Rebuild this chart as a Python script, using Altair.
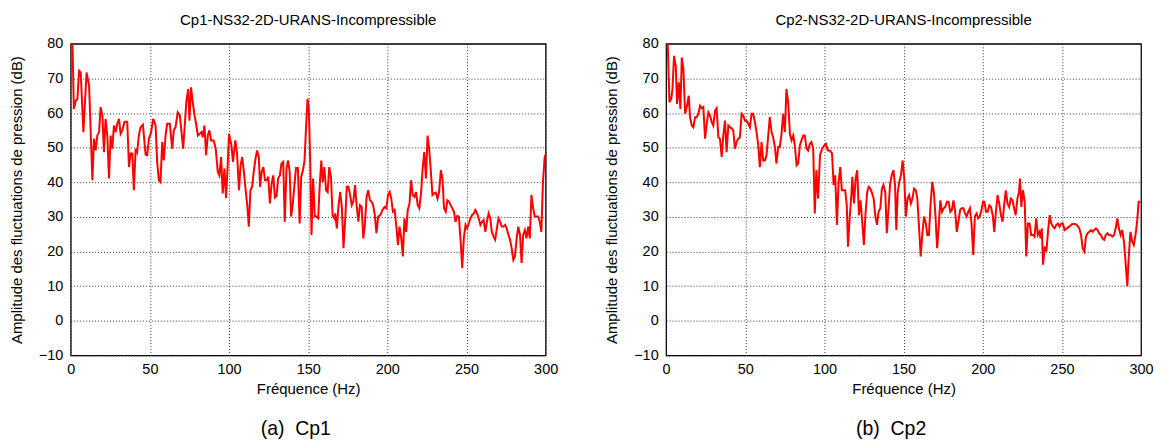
import altair as alt
import pandas as pd

FONT = "Liberation Sans"

# ---- Panel (a) Cp1 : frequency (Hz) / amplitude (dB) ----
freq1 = [0, 1, 2, 3.2, 4.2, 5.3, 6.3, 8, 10, 11.6, 13.7, 14.7, 15.8, 16.8, 17.9, 18.9, 20, 21, 22, 23.1,
         24.2, 25.2, 26.3, 27.3, 28.4, 29.4, 30.5, 31.5, 32.6, 34, 35.7, 36.8, 37.8, 38.9, 39.9, 41, 42, 43,
         44.1, 45.6, 47.3, 48.3, 49.4, 50.8, 52.1, 53.6, 54.6, 55.7, 56.7, 57.8, 58.8, 59.9, 60.9, 62.6,
         64.1, 65.1, 66.2, 67.6, 68.9, 70, 71, 72.1, 73.1, 74.2, 75, 76, 77.1, 78.2, 79.2, 80.3, 81.5, 82.6,
         83.4, 84.5, 85.5, 86.6, 87.6, 88.7, 90.3, 91.6, 92.9, 93.9, 95, 96, 97.1, 98.1, 99.2, 100, 101.5,
         102.5, 104, 105, 106.3, 107.3, 108.3, 109.4, 110.4, 111.5, 112.5, 113.5, 114.6, 115.6, 116.7,
         117.7, 118.8, 119.6, 120.6, 121.7, 122.7, 123.8, 124.8, 125.8, 126.9, 127.9, 129, 130, 131, 132.1,
         133.1, 134.2, 135.2, 136.3, 137.3, 138.3, 139.2, 140.2, 141.3, 142.3, 143.5, 144.6, 145.6, 146.7,
         147.7, 148.8, 149.6, 150.4, 151.3, 152.1, 153.1, 154.2, 155.2, 156.3, 157.3, 158.3, 159.2, 160.2,
         161.3, 162.3, 163.3, 164.4, 165.4, 166.5, 167.1, 168.1, 169.2, 170.2, 171.3, 172.3, 173.3, 174.4,
         175.4, 176.5, 177.5, 178.5, 179.6, 180.6, 181.7, 182.7, 183.8, 184.8, 185.8, 186.9, 187.9, 189,
         190, 191, 192.1, 193.1, 194.2, 195.6, 196.9, 198.3, 199.4, 200.4, 201.5, 202.5, 203.5, 204.6,
         205.6, 206.7, 207.7, 208.8, 209.8, 210.8, 211.9, 212.9, 214, 215, 216, 217.1, 218.1, 219.2, 220.2,
         221.3, 222.3, 223.3, 224.4, 225.4, 226.5, 227.5, 228.5, 229.6, 230.6, 231.7, 232.7, 233.8, 234.8,
         235.8, 236.9, 237.9, 239, 240, 241, 242.1, 243.1, 244.2, 245.2, 246.3, 247.3, 248.3, 249.4, 250.4,
         251.5, 252.5, 253.5, 254.6, 255.6, 256.7, 257.7, 258.8, 259.8, 260.8, 261.9, 262.9, 264, 265, 266,
         267.1, 268.1, 269.2, 270.2, 271.3, 272.3, 273.3, 274.4, 275.4, 276.5, 277.5, 278.5, 279.6, 280.6,
         281.7, 282.7, 283.8, 284.8, 285.8, 286.9, 287.9, 289, 290, 291, 292.1, 293.1, 294.2, 295.2, 296.3,
         297.3, 298.3, 299.4, 300]
amp1 = [85, 82, 61.2, 63.6, 64, 72.2, 71.7, 54.5, 71.7, 67.9, 40.6, 52.6, 49.2, 53.5, 54.5, 61.7, 59.3, 48.7,
        58.3, 53.5, 41.1, 53.5, 49.7, 56.4, 54.5, 56.9, 58.3, 54, 55, 57.5, 57.5, 44.4, 48.3, 48.3, 37.7, 49.7,
        48.7, 53.5, 55.9, 56.6, 48, 47.8, 52.6, 54.5, 58.3, 56.4, 45.9, 40.6, 40.1, 51.6, 46.3, 53.5, 56.9,
        56.9, 49.7, 55, 55.9, 60.2, 59.3, 54.5, 49.7, 56.9, 63.6, 66.9, 57.8, 67.4, 63.1, 59.3, 56.9, 53.5, 54,
        54.5, 53, 56.4, 47.8, 53.5, 55, 52.1, 52.1, 49.7, 43, 42, 47.3, 36.8, 44, 35.5, 45.5, 54, 50.7, 45.9,
        52.1, 48.7, 37.7, 44.9, 47.3, 43, 38.2, 33.4, 27.2, 37.7, 38.7, 43, 46.8, 49.2, 47.3, 38.7, 43, 44.4,
        40.6, 40.6, 41.6, 33.9, 39.6, 42, 35.6, 36, 41.1, 42, 45.4, 45.9, 28.6, 44, 46.3, 43, 30.1, 33.4,
        39.2, 44.1, 44.1, 28.1, 41.6, 43.5, 46.3, 57.4, 64.1, 61.2, 45.9, 24.8, 41.1, 30.1, 30.1, 29.6, 39.2,
        46.3, 40.1, 44.4, 37.7, 37.2, 44.4, 41.6, 30.5, 29.6, 31, 26.7, 33.4, 37.2, 32.5, 21, 28.6, 38.7,
        38.7, 36.3, 33.4, 34.4, 39.2, 33.4, 28.6, 33.4, 32.9, 23.8, 27.7, 35.8, 37.7, 34.8, 34.4, 33.4, 30.5,
        25.3, 30.1, 30.5, 32, 32.9, 32.5, 36.3, 37.2, 35.3, 31.5, 32, 27.7, 21.9, 27.2, 23.8, 18.6, 29.6,
        25.7, 32, 33.9, 40.6, 36.3, 35.8, 37.2, 33.4, 32.5, 36.8, 43.9, 48.7, 41.1, 53.5, 49.2, 43, 36.3,
        36.8, 37, 35.3, 37.2, 43.5, 41.1, 32.5, 31.5, 34.8, 34.4, 33.4, 32.5, 31.5, 28.6, 30.3, 30.1, 22.9,
        15.2, 23.8, 27.7, 26.7, 28.1, 29.6, 30.5, 31, 32, 31, 29.6, 27.7, 28.6, 29.1, 25.7, 28.6, 31, 29.6,
        25.7, 24.3, 23.4, 26.7, 29.6, 28.6, 27.2, 27.2, 27.7, 26.7, 24.8, 23.4, 21, 17.6, 18.6, 23.8, 27.2,
        24.8, 16.7, 24.8, 26.2, 23.8, 27.2, 23.8, 36.3, 32.5, 30.1, 30.1, 30.1, 28.6, 25.7, 40.1, 47.3, 48]

# ---- Panel (b) Cp2 ----
freq2 = [0, 1, 2.1, 3.2, 4, 5, 6.1, 6.9, 8, 9, 9.9, 10.9, 12, 13, 14.3, 15.1, 16.2, 17.2, 18.3, 19.3, 20.4,
         21.4, 22.5, 23.5, 24.6, 25.6, 26.7, 27.7, 28.8, 29.8, 30.9, 31.9, 33, 34, 35.1, 36.1, 37.2, 38.2,
         39.3, 40.3, 41.4, 42.4, 43.5, 44.5, 45.6, 46.6, 47.7, 48.7, 49.8, 50.8, 51.9, 52.9, 54, 55, 56.1,
         57.1, 58.2, 59.2, 60.3, 61.3, 62.4, 63.4, 64.5, 65.5, 66.6, 67.6, 68.7, 69.7, 70.8, 71.8, 72.9,
         73.9, 75, 76, 77.1, 78.2, 79.2, 80.3, 81.3, 82.4, 83.4, 84.5, 85.5, 86.6, 87.6, 88.7, 89.7, 90.8,
         91.8, 92.9, 93.9, 94.9, 96, 97.2, 98.5, 100, 101, 102.1, 103.5, 104.8, 105.8, 106.8, 107.9, 108.9,
         110, 111, 112, 113.1, 114.1, 114.9, 116, 117, 117.6, 118.7, 119.7, 120.7, 121.8, 122.8, 123.9,
         124.9, 125.9, 127, 128, 129, 130.1, 131.1, 132.2, 133.2, 134.2, 135.3, 136.3, 137.3, 138.4, 139.4,
         140.5, 141.5, 142.5, 143.6, 144.6, 145.4, 146.3, 147.3, 148.3, 149.4, 150.4, 151.5, 152.5, 153.5,
         154.6, 155.6, 156.6, 157.7, 158.7, 159.8, 160.8, 161.8, 162.9, 163.9, 165, 166, 167, 168.1, 169.1,
         170.1, 171.2, 172.2, 173.2, 174.3, 175.3, 176.3, 177.4, 178.4, 179.5, 180.5, 181.5, 182.6, 183.6,
         184.6, 185.7, 186.7, 187.8, 188.8, 189.8, 190.9, 191.9, 192.9, 194, 195, 196.1, 197.1, 198.1,
         199.2, 200.2, 201, 202.1, 203.1, 204.2, 205.2, 206.3, 207.3, 208.3, 209.4, 210.4, 211.5, 212.5,
         213.5, 214.6, 215.6, 216.7, 217.7, 218.8, 219.8, 220.8, 221.9, 222.9, 223.5, 224.4, 225.4, 226.5,
         227.5, 228.5, 229.6, 230.6, 231.7, 232.7, 233.8, 234.8, 235.8, 236.5, 237.3, 238.1, 239.2, 240.2,
         241.3, 242.3, 243.3, 244.4, 245.4, 246.5, 247.5, 248.5, 249.6, 250.6, 251.7, 253.1, 254.6, 256.3,
         257.9, 259.4, 261, 262.1, 263.1, 264.2, 265.2, 266.3, 267.3, 268.3, 269.4, 270.4, 271.5, 272.5,
         273.5, 274.6, 275.6, 276.7, 277.7, 278.8, 279.8, 280.8, 281.9, 282.9, 284, 285, 286, 287.1, 288.1,
         289.2, 290.2, 291.3, 292.3, 293.3, 294.4, 295.4, 296.5, 297.5, 298.5, 299.6]
amp2 = [85, 80, 63.1, 64.1, 66.9, 76.5, 73.6, 62.6, 68.9, 61.2, 76, 72.7, 59.8, 61.7, 65, 58.8, 56.4, 55.9,
        58.8, 58.8, 59.8, 62.1, 61.4, 61.7, 52.6, 56.9, 60.2, 59.3, 57.4, 56.4, 60.7, 61.4, 53, 52.6, 47.3,
        53.5, 57.8, 48.7, 56.4, 55.9, 55.6, 55, 49.7, 51.6, 52.6, 53, 59.8, 59.3, 57.8, 57.8, 56.9, 55.9,
        59.8, 59.8, 57.4, 54.5, 50.7, 44.4, 51.6, 46.3, 46.3, 47.8, 53.5, 58.8, 54.5, 53, 50.2, 45.4, 50.2,
        50.2, 54, 59.8, 54.5, 66.9, 63.1, 54, 52.1, 53.5, 50.7, 44.9, 45.4, 50.7, 52.1, 53.5, 53.5, 49.7,
        49.2, 51.1, 51.6, 49.7, 31, 43.5, 35.3, 47.8, 49.7, 50.7, 51.1, 49.2, 49.2, 48.3, 39.2, 42, 27.7,
        39.6, 44.4, 37.7, 37.7, 37.7, 33.4, 21.4, 30.1, 36.3, 41.6, 33.9, 41.1, 43.5, 30.5, 34.8, 28.6,
        21.9, 30.5, 37.2, 38.7, 38.2, 36.8, 35.3, 30.1, 27.7, 31.5, 32.5, 38.2, 39.2, 37.2, 25.3, 32.5,
        39.6, 42, 43.5, 39.2, 26.2, 37.2, 40.1, 42, 46.3, 41.1, 30.1, 35.3, 36.3, 33.9, 35.3, 38.2, 37.7,
        35.3, 26.7, 18.6, 24.8, 30.1, 28.6, 24.8, 24.8, 33.4, 40.1, 37.2, 30.5, 21, 27.2, 34.8, 31.5, 32.5,
        32.9, 34.4, 34.4, 31.5, 32, 34.8, 31.5, 25.7, 28.6, 32, 32.5, 32.5, 31, 30.1, 31.5, 32.5, 28.1, 19,
        30.1, 31, 29.6, 30.1, 32, 34.4, 34.4, 31.5, 31.5, 33.4, 32.9, 30.5, 25.7, 31.5, 36.3, 33.9, 30.5,
        28.6, 33.4, 37.7, 33.9, 32.9, 35.3, 34.8, 32.5, 30.5, 35.3, 37.2, 41.1, 32.9, 37.7, 34.4, 18.6,
        28.1, 28.1, 24.8, 24.8, 24.3, 29.6, 24.8, 25.7, 23.8, 26.7, 16.2, 21.4, 20, 26.2, 30.5, 28.1, 27.2,
        26.7, 27.7, 28.1, 27.2, 28.1, 28.1, 26.2, 26.7, 27.2, 27.9, 28, 27.7, 26.7, 24.8, 21, 20, 24.3, 25.3,
        25.7, 26.2, 25.7, 26.2, 26.7, 26.2, 25.3, 24.8, 23.8, 23.4, 24.8, 25.3, 24.8, 24.8, 24.3, 24.8, 26.7,
        29.6, 26.7, 24.8, 26.2, 22.9, 17.1, 10, 19, 25.7, 22.9, 21.9, 24.8, 28.6, 34.4, 34.4]

titles = ["Cp1-NS32-2D-URANS-Incompressible", "Cp2-NS32-2D-URANS-Incompressible"]
captions = ["(a)\u00a0\u00a0Cp1", "(b)\u00a0\u00a0Cp2"]
x_ticks = [0, 50, 100, 150, 200, 250, 300]
y_ticks = [-10, 0, 10, 20, 30, 40, 50, 60, 70, 80]

W, H = 477, 313


def panel(freq, amp, title, caption):
    df = pd.DataFrame({"f": freq, "a": amp})
    line = alt.Chart(df).mark_line(color="#ff0000", strokeWidth=2, clip=True).encode(
        x=alt.X("f:Q", scale=alt.Scale(domain=[0, 300], nice=False, zero=False),
                axis=alt.Axis(values=x_ticks, title="Fréquence (Hz)", labelPadding=7,
                              titlePadding=6, labelFlush=False, labelOverlap=False)),
        y=alt.Y("a:Q", scale=alt.Scale(domain=[-10, 80], nice=False, zero=False),
                axis=alt.Axis(values=y_ticks, title="Amplitude des fluctuations de pression (dB)",
                              labelPadding=8, titlePadding=14, labelFlush=False,
                              labelOverlap=False)),
    )
    cap = alt.Chart(pd.DataFrame({"t": [caption]})).mark_text(
        font=FONT, fontSize=19.5, align="center", baseline="middle", color="black"
    ).encode(text="t:N", x=alt.value(226), y=alt.value(H + 74))
    return alt.layer(line, cap).properties(
        width=W, height=H,
        title=alt.TitleParams(title, fontSize=15, font=FONT, fontWeight="normal",
                              anchor="middle", offset=8, color="black"),
    )


chart = alt.hconcat(
    panel(freq1, amp1, titles[0], captions[0]),
    panel(freq2, amp2, titles[1], captions[1]),
    spacing=121, bounds="flush",
).properties(
    padding={"left": 0, "top": 3, "right": 0, "bottom": 0},
    background="white",
).configure_view(
    stroke="black", strokeWidth=1.3
).configure_axis(
    domain=False, ticks=False,
    grid=True, gridColor="#333333", gridDash=[1, 2], gridWidth=1, gridOpacity=1,
    labelFont=FONT, labelFontSize=14.5, labelColor="black",
    titleFont=FONT, titleFontSize=15, titleFontWeight="normal", titleColor="black",
)

chart.save("out.html", embed_options={"renderer": "svg", "actions": False})
